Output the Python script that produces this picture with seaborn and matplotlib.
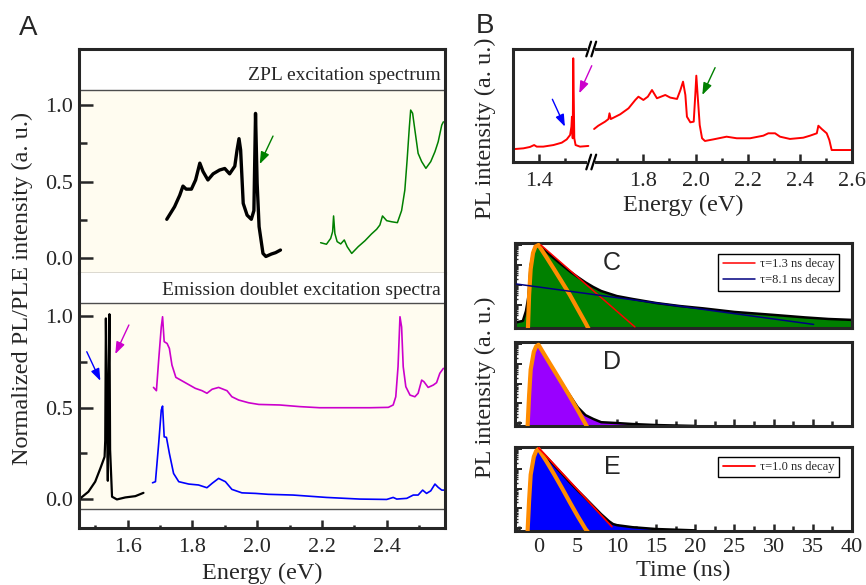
import matplotlib
matplotlib.use("Agg")
import matplotlib.pyplot as plt
import numpy as np
import seaborn as sns
from matplotlib.ticker import FixedLocator, MultipleLocator, NullFormatter, LogLocator

# ---------------- data ----------------
# A (top): ZPL excitation spectrum
zpl_black_e = [1.721, 1.745, 1.761, 1.771, 1.781, 1.797, 1.810, 1.823, 1.833, 1.848, 1.864, 1.884,
               1.900, 1.915, 1.931, 1.938, 1.944, 1.949, 1.957, 1.969, 1.982, 1.990, 1.995, 2.000,
               2.006, 2.018, 2.027, 2.044, 2.057, 2.072]
zpl_black_i = [0.253, 0.335, 0.41, 0.47, 0.45, 0.45, 0.51, 0.62, 0.565, 0.51, 0.55, 0.575,
               0.585, 0.55, 0.60, 0.706, 0.78, 0.706, 0.357, 0.28, 0.253, 0.31, 0.945, 0.488,
               0.205, 0.03, 0.01, 0.026, 0.035, 0.052]
zpl_green_e = [2.196, 2.214, 2.227, 2.233, 2.236, 2.240, 2.247, 2.258, 2.269, 2.278, 2.292, 2.312,
               2.333, 2.353, 2.369, 2.379, 2.387, 2.400, 2.415, 2.433, 2.446, 2.456, 2.463, 2.470,
               2.474, 2.480, 2.487, 2.497, 2.508, 2.521, 2.536, 2.549, 2.559, 2.570, 2.575]
zpl_green_i = [0.10, 0.09, 0.128, 0.172, 0.275, 0.16, 0.107, 0.092, 0.118, 0.074, 0.03, 0.074,
               0.113, 0.157, 0.188, 0.216, 0.275, 0.244, 0.237, 0.231, 0.31, 0.444, 0.64, 0.858,
               0.967, 0.946, 0.837, 0.684, 0.63, 0.586, 0.63, 0.695, 0.76, 0.869, 0.89]

# A (bottom): emission doublet excitation spectra
dbl_black_e = [1.454, 1.479, 1.500, 1.516, 1.529, 1.531, 1.533, 1.536, 1.539, 1.541, 1.544, 1.546,
               1.552, 1.567, 1.593, 1.624, 1.649]
dbl_black_i = [0.004, 0.04, 0.095, 0.168, 0.231, 0.32, 0.987, 0.54, 0.10, 0.54, 1.01, 0.27,
               0.013, -0.002, 0.009, 0.016, 0.034]
dbl_magenta_e = [1.680, 1.689, 1.696, 1.704, 1.708, 1.713, 1.722, 1.729, 1.737, 1.749, 1.778, 1.809,
                 1.830, 1.845, 1.861, 1.881, 1.907, 1.922, 1.943, 1.974, 2.005, 2.070, 2.132, 2.193,
                 2.266, 2.348, 2.405, 2.420, 2.428, 2.435, 2.441, 2.446, 2.451, 2.459, 2.472, 2.487,
                 2.497, 2.508, 2.515, 2.528, 2.544, 2.554, 2.564, 2.575]
dbl_magenta_i = [0.61, 0.592, 0.76, 0.94, 0.996, 0.86, 0.85, 0.823, 0.732, 0.665, 0.636, 0.605,
                 0.592, 0.578, 0.60, 0.61, 0.592, 0.559, 0.541, 0.526, 0.517, 0.514, 0.505, 0.499,
                 0.499, 0.499, 0.501, 0.514, 0.559, 0.723, 0.996, 0.94, 0.723, 0.614, 0.568, 0.559,
                 0.578, 0.65, 0.641, 0.61, 0.623, 0.636, 0.687, 0.714]
dbl_blue_e = [1.677, 1.686, 1.696, 1.704, 1.708, 1.713, 1.720, 1.729, 1.742, 1.758, 1.789, 1.819,
              1.845, 1.861, 1.881, 1.902, 1.922, 1.953, 1.995, 2.034, 2.111, 2.214, 2.317, 2.400,
              2.420, 2.431, 2.462, 2.482, 2.497, 2.511, 2.523, 2.536, 2.549, 2.559, 2.570, 2.577]
dbl_blue_i = [0.089, 0.095, 0.304, 0.486, 0.508, 0.34, 0.337, 0.25, 0.14, 0.095, 0.082, 0.077,
              0.062, 0.086, 0.113, 0.095, 0.053, 0.034, 0.031, 0.026, 0.022, 0.009, 0.0, -0.002,
              0.009, 0.0, 0.004, 0.022, 0.022, 0.049, 0.031, 0.045, 0.082, 0.064, 0.049, 0.049]

# B: PL spectrum (two segments around the axis break)
pl_low_e = [1.308, 1.340, 1.365, 1.381, 1.391, 1.416, 1.455, 1.487, 1.506, 1.519, 1.524, 1.526,
            1.529, 1.531, 1.535, 1.540, 1.557, 1.589]
pl_low_i = [0.115, 0.121, 0.133, 0.150, 0.136, 0.136, 0.150, 0.171, 0.20, 0.239, 0.313, 0.40,
            0.21, 0.918, 0.21, 0.15, 0.136, 0.142]
pl_high_e = [1.611, 1.627, 1.653, 1.666, 1.670, 1.675, 1.711, 1.743, 1.769, 1.781, 1.800, 1.817,
             1.833, 1.852, 1.884, 1.903, 1.929, 1.942, 1.952, 1.961, 1.967, 1.980, 1.993, 1.999,
             2.003, 2.008, 2.016, 2.025, 2.036, 2.068, 2.119, 2.158, 2.209, 2.260, 2.279, 2.305,
             2.324, 2.362, 2.413, 2.439, 2.465, 2.471, 2.484, 2.503, 2.513, 2.522, 2.554, 2.599]
pl_high_i = [0.292, 0.321, 0.357, 0.38, 0.431, 0.38, 0.422, 0.475, 0.549, 0.578, 0.549, 0.578,
             0.637, 0.564, 0.593, 0.570, 0.558, 0.637, 0.711, 0.593, 0.401, 0.351, 0.357, 0.593,
             0.764, 0.593, 0.327, 0.21, 0.186, 0.20, 0.224, 0.21, 0.21, 0.233, 0.254, 0.254,
             0.224, 0.204, 0.215, 0.233, 0.254, 0.321, 0.292, 0.254, 0.195, 0.106, 0.106, 0.106]

# C: ZPL decay
c_t = [-3, -2, -1.6, -1.3, -1.0, -0.6, -0.3, 0, 1, 2, 3, 4, 5, 6, 7, 8, 10, 12, 15, 18, 21, 25,
       30, 34, 37, 40]
c_i = [1.3e-4, 1.6e-4, 5e-4, 2.5e-3, 0.1, 0.56, 0.89, 1.0, 0.47, 0.21, 0.1, 0.048, 0.025, 0.0135,
       0.0079, 0.005, 0.0028, 0.002, 0.00126, 0.00089, 0.00068, 0.00045, 0.00032, 0.00024,
       0.0002, 0.00018]
c_irf_t = [-1.35, -1.2, -1.0, -0.7, -0.4, 0, 1, 2, 3, 4, 5, 6, 6.4]
c_irf_i = [6.3e-5, 3.2e-3, 0.063, 0.4, 0.83, 1.0, 0.25, 0.06, 0.014, 3.2e-3, 6.3e-4, 1.26e-4, 6.3e-5]
c_fast_t, c_fast_i = [0.3, 12.3], [1.0, 8e-5]
c_slow_t, c_slow_i = [-2.8, 35.1], [0.0112, 1.07e-4]

# D: doublet (violet) decay
d_t = [-1.4, -1.2, -1.0, -0.6, -0.3, 0, 1, 2, 3, 4, 5, 6, 7, 8, 10, 12, 15, 20]
d_i = [6.3e-5, 2.5e-3, 0.05, 0.4, 0.71, 0.85, 0.19, 0.045, 0.01, 2.5e-3, 6.3e-4, 2.5e-4, 1.6e-4,
       1.1e-4, 1e-4, 8.9e-5, 7.9e-5, 7.1e-5]
d_irf_t = [-1.4, -1.2, -1.0, -0.6, -0.3, 0, 1, 2, 3, 4, 5, 6, 6.2]
d_irf_i = [6.3e-5, 2.5e-3, 0.05, 0.4, 0.76, 0.91, 0.2, 0.045, 0.01, 2.2e-3, 4.5e-4, 8.9e-5, 6.3e-5]

# E: doublet (blue) decay
e_t = [-1.4, -1.2, -1.0, -0.6, -0.3, 0, 1, 2, 3, 4, 5, 6, 7, 8, 9, 9.5, 10, 12, 15, 20]
e_i = [6.3e-5, 2.5e-3, 0.05, 0.4, 0.79, 1.0, 0.4, 0.148, 0.055, 0.0204, 7.9e-3, 3.2e-3, 1.26e-3,
       5e-4, 2.2e-4, 1.6e-4, 1.4e-4, 1.1e-4, 8.9e-5, 7.6e-5]
e_irf_t = [-1.4, -1.2, -1.0, -0.6, -0.3, 0, 1, 2, 3, 4, 5, 6, 6.3]
e_irf_i = [6.3e-5, 2.5e-3, 0.05, 0.4, 0.79, 1.0, 0.24, 0.052, 0.0105, 2e-3, 4e-4, 8.9e-5, 6.3e-5]
e_fit_t, e_fit_i = [0, 9.36], [1.16, 1.17e-4]

# arrows: (tail, tip)
arrows_zpl = [((2.049, 0.797), (2.008, 0.614), "#008000")]
arrows_dbl = [((1.474, 0.805), (1.516, 0.646), "#0000FF"),
              ((1.604, 0.951), (1.562, 0.792), "#CC00CC")]
arrows_pl = [((1.451, 0.555), (1.499, 0.313), "#0000FF"),
             ((1.602, 0.852), (1.554, 0.608), "#CC00CC"),
             ((2.075, 0.835), (2.026, 0.593), "#008000")]

# ---------------- style ----------------
sns.set_theme(style="ticks")
plt.rcParams["font.family"] = ["Liberation Serif", "DejaVu Serif"]
plt.rcParams["axes.linewidth"] = 2.2

CREAM = "#FFFCF0"
TICK_FS = 16
LABEL_FS = 17.5
LOG_LO, LOG_HI = 10 ** -4.15, 10 ** 0.1

W, H = 866, 585
fig = plt.figure(figsize=(8.66, 5.85), dpi=100)


def box(l, t, r, b):
    return [l / W, 1 - b / H, (r - l) / W, (b - t) / H]


def ftext(x, y, s, **kw):
    fig.text(x / W, 1 - y / H, s, **kw)


def draw_arrows(ax, arrows):
    for tail, tip, col in arrows:
        ax.annotate("", xy=tip, xytext=tail,
                    arrowprops=dict(arrowstyle="-|>,head_length=0.6,head_width=0.22",
                                    color=col, lw=1.0, shrinkA=0, shrinkB=0))


ax_zpl = fig.add_axes(box(79, 49, 445, 273))
ax_dbl = fig.add_axes(box(79, 273, 445, 528))
ax_b = fig.add_axes(box(513, 49, 852, 162))
ax_c = fig.add_axes(box(515, 243, 852, 328))
ax_d = fig.add_axes(box(515, 342, 852, 426))
ax_e = fig.add_axes(box(515, 447, 852, 531))

# ---------------- panel A ----------------
for ax, ylim, band in [(ax_zpl, (-0.098, 1.366), (-0.2, 1.098)),
                       (ax_dbl, (-0.158, 1.235), (-0.055, 1.071))]:
    ax.set_xlim(1.45, 2.58)
    ax.set_ylim(*ylim)
    ax.axhspan(band[0], band[1], color=CREAM, lw=0, zorder=0)
    for yb in band:
        ax.axhline(yb, color="0.3", lw=1.0, zorder=1)
    ax.yaxis.set_major_locator(FixedLocator([0.0, 0.5, 1.0]))
    ax.yaxis.set_minor_locator(FixedLocator([0.25, 0.75]))
    ax.yaxis.set_major_formatter(matplotlib.ticker.FormatStrFormatter("%.1f"))
    ax.tick_params(axis="y", which="major", direction="in", length=10, width=1.8,
                   labelsize=TICK_FS, pad=4)
    ax.tick_params(axis="y", which="minor", direction="in", length=6, width=1.8)

# thin grey divider between the two sub-panels
ax_zpl.spines["bottom"].set_linewidth(1.0)
ax_zpl.spines["bottom"].set_color("0.3")
ax_dbl.spines["top"].set_visible(False)
ax_zpl.tick_params(axis="x", which="both", bottom=False, labelbottom=False)
ax_dbl.xaxis.set_major_locator(MultipleLocator(0.2))
ax_dbl.xaxis.set_minor_locator(MultipleLocator(0.1))
ax_dbl.tick_params(axis="x", which="major", direction="in", length=6, width=1.8,
                   labelsize=TICK_FS, pad=7)
ax_dbl.tick_params(axis="x", which="minor", direction="in", length=2.5, width=1.8)

sns.lineplot(x=zpl_black_e, y=zpl_black_i, ax=ax_zpl, color="black", lw=2.4, sort=False,
             estimator=None)
sns.lineplot(x=zpl_green_e, y=zpl_green_i, ax=ax_zpl, color="#008000", lw=1.1, sort=False,
             estimator=None)
sns.lineplot(x=dbl_black_e, y=dbl_black_i, ax=ax_dbl, color="black", lw=1.6, sort=False,
             estimator=None)
sns.lineplot(x=dbl_magenta_e, y=dbl_magenta_i, ax=ax_dbl, color="#CC00CC", lw=1.2, sort=False,
             estimator=None)
sns.lineplot(x=dbl_blue_e, y=dbl_blue_i, ax=ax_dbl, color="#0000FF", lw=1.2, sort=False,
             estimator=None)
draw_arrows(ax_zpl, arrows_zpl)
draw_arrows(ax_dbl, arrows_dbl)

ax_zpl.text(0.989, 1.196, "ZPL excitation spectrum", transform=ax_zpl.get_yaxis_transform(),
            ha="right", va="center", fontsize=14)
ax_dbl.text(0.989, 1.142, "Emission doublet excitation spectra",
            transform=ax_dbl.get_yaxis_transform(), ha="right", va="center", fontsize=14)

ftext(262, 573, "Energy (eV)", ha="center", va="center", fontsize=LABEL_FS)
ftext(22, 288, "Normalized PL/PLE intensity (a. u.)", ha="center", va="center",
      rotation=90, fontsize=LABEL_FS)
ftext(28, 28, "A", ha="center", va="center", fontsize=20, family="Liberation Sans")

# ---------------- panel B ----------------
sns.lineplot(x=pl_low_e, y=pl_low_i, ax=ax_b, color="red", lw=1.4, sort=False, estimator=None)
sns.lineplot(x=pl_high_e, y=pl_high_i, ax=ax_b, color="red", lw=1.4, sort=False, estimator=None)
draw_arrows(ax_b, arrows_pl)
ax_b.set_xlim(1.3, 2.6)
ax_b.set_ylim(0, 1)
ax_b.set_yticks([])
ax_b.xaxis.set_major_locator(FixedLocator([1.4, 1.8, 2.0, 2.2, 2.4, 2.6]))
ax_b.xaxis.set_minor_locator(FixedLocator([1.5, 1.7, 1.9, 2.1, 2.3, 2.5]))
ax_b.xaxis.set_major_formatter(matplotlib.ticker.FormatStrFormatter("%.1f"))
ax_b.tick_params(axis="x", which="major", direction="in", length=6, width=1.8,
                 labelsize=TICK_FS, pad=7)
ax_b.tick_params(axis="x", which="minor", direction="in", length=3, width=1.8)

# axis break marks
xb = (1.6 - 1.3) / 1.3
for yb in (0, 1):
    ax_b.plot([xb - 0.012, xb + 0.012], [yb, yb], transform=ax_b.transAxes, color="white",
              lw=4, clip_on=False, zorder=5, solid_capstyle="butt")
    for dx in (-0.0075, 0.0075):
        ax_b.plot([xb + dx - 0.007, xb + dx + 0.007], [yb - 0.065, yb + 0.065],
                  transform=ax_b.transAxes, color="black", lw=1.6, clip_on=False, zorder=6)

ftext(683, 205, "Energy (eV)", ha="center", va="center", fontsize=LABEL_FS)
ftext(485, 128, "PL intensity (a. u.)", ha="center", va="center", rotation=90,
      fontsize=LABEL_FS)
ftext(485, 26, "B", ha="center", va="center", fontsize=20, family="Liberation Sans")

# ---------------- panels C, D, E ----------------
panels = [
    (ax_c, c_t, c_i, c_irf_t, c_irf_i, "#008000", "C"),
    (ax_d, d_t, d_i, d_irf_t, d_irf_i, "#9900FF", "D"),
    (ax_e, e_t, e_i, e_irf_t, e_irf_i, "#0000FF", "E"),
]
for ax, t, i, irf_t, irf_i, fill_col, letter in panels:
    ax.set_yscale("log")
    ax.fill_between(t, i, LOG_LO, color=fill_col, lw=0, zorder=1)
    sns.lineplot(x=t, y=i, ax=ax, color="black", lw=1.8, sort=False, estimator=None, zorder=2)
    sns.lineplot(x=irf_t, y=irf_i, ax=ax, color="#FF8C00", lw=3.0, sort=False, estimator=None,
                 zorder=3)
    ax.set_xlim(-3, 40)
    ax.set_ylim(LOG_LO, LOG_HI)
    ax.xaxis.set_major_locator(MultipleLocator(5))
    ax.xaxis.set_minor_locator(MultipleLocator(2.5))
    ax.yaxis.set_major_locator(LogLocator(base=10, numticks=10))
    ax.yaxis.set_minor_locator(LogLocator(base=10, subs=np.arange(2, 10), numticks=10))
    ax.yaxis.set_major_formatter(NullFormatter())
    ax.yaxis.set_minor_formatter(NullFormatter())
    ax.tick_params(axis="x", which="major", direction="in", length=5, width=1.8,
                   labelsize=TICK_FS, pad=5)
    ax.tick_params(axis="x", which="minor", direction="in", length=3.5, width=1.8)
    ax.tick_params(axis="y", which="major", direction="in", length=5, width=1.4)
    ax.tick_params(axis="y", which="minor", direction="in", length=2.5, width=1.0)
    ax.text(0.288, 0.76, letter, transform=ax.transAxes, ha="center", va="center",
            fontsize=18, family="Liberation Sans")
    if ax is not ax_e:
        ax.tick_params(axis="x", labelbottom=False)

sns.lineplot(x=c_fast_t, y=c_fast_i, ax=ax_c, color="red", lw=1.1, zorder=4,
             label="\u03c4=1.3 ns decay")
sns.lineplot(x=c_slow_t, y=c_slow_i, ax=ax_c, color="#000080", lw=1.1, zorder=4,
             label="\u03c4=8.1 ns decay")
sns.lineplot(x=e_fit_t, y=e_fit_i, ax=ax_e, color="red", lw=1.3, zorder=4,
             label="\u03c4=1.0 ns decay")

for ax, anchor in [(ax_c, (0.962, 0.875)), (ax_e, (0.962, 0.885))]:
    leg = ax.legend(loc="upper right", bbox_to_anchor=anchor, fontsize=9, frameon=True,
                    fancybox=False, edgecolor="black", framealpha=1, handlelength=2.6,
                    borderpad=0.35, labelspacing=0.35, handletextpad=0.4, borderaxespad=0)
    leg.get_frame().set_linewidth(1.0)
    leg.set_zorder(10)

ftext(683, 570, "Time (ns)", ha="center", va="center", fontsize=LABEL_FS)
ftext(485, 387, "PL intensity (a. u.)", ha="center", va="center", rotation=90,
      fontsize=LABEL_FS)

fig.savefig("out.png", dpi=100)
